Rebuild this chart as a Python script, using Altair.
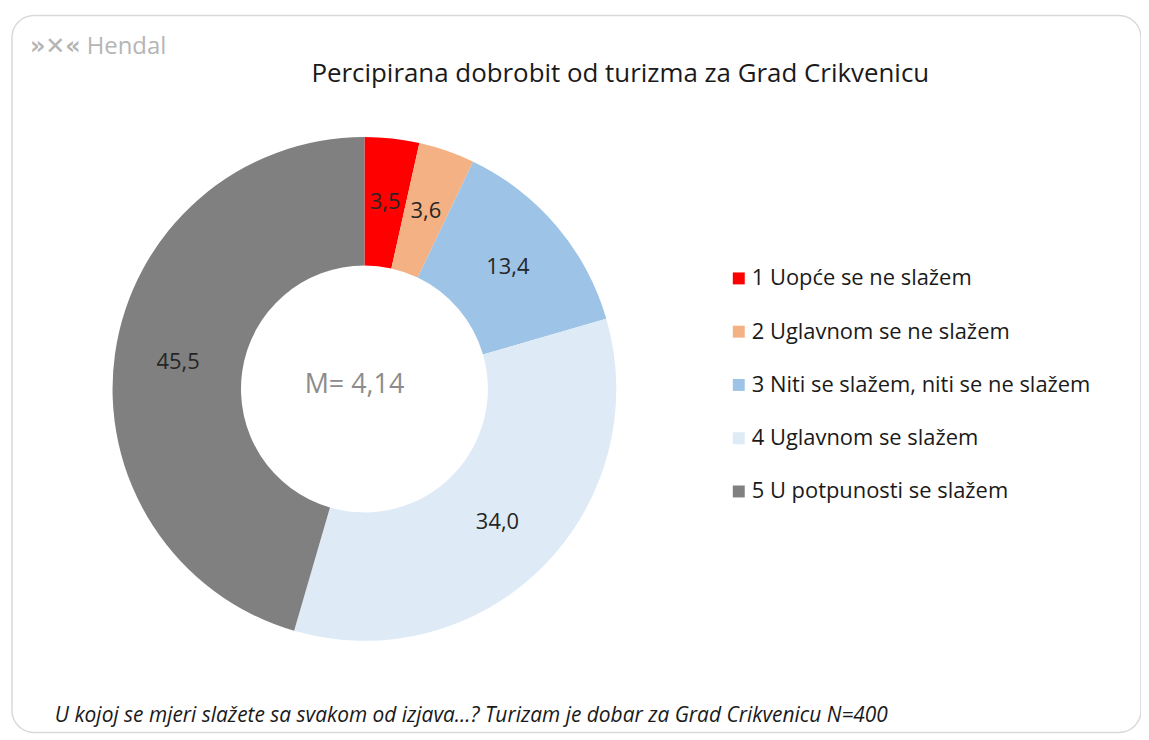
import altair as alt
import pandas as pd

categories = [
    "1 Uopće se ne slažem",
    "2 Uglavnom se ne slažem",
    "3 Niti se slažem, niti se ne slažem",
    "4 Uglavnom se slažem",
    "5 U potpunosti se slažem",
]
values = [3.5, 3.6, 13.4, 34.0, 45.5]
value_labels = ["3,5", "3,6", "13,4", "34,0", "45,5"]
colors = ["#FF0000", "#F4B183", "#9DC3E6", "#DEEBF7", "#808080"]
title_text = "Percipirana dobrobit od turizma za Grad Crikvenicu"
mean_text = "M= 4,14"
footer_text = "U kojoj se mjeri slažete sa svakom od izjava...? Turizam je dobar za Grad Crikvenicu N=400"
logo_icon = "»✕«"
logo_text = "Hendal"

df = pd.DataFrame({"cat": categories, "value": values, "label": value_labels, "k": list(range(len(values)))})

CX, CY = 354, 375
FONT = "Open Sans"

base = alt.Chart(df).encode(
    theta=alt.Theta("value:Q", stack=True),
    order=alt.Order("k:Q"),
)

arcs = base.mark_arc(outerRadius=253, innerRadius=124, strokeWidth=0).encode(
    x=alt.value(CX),
    y=alt.value(CY),
    color=alt.Color(
        "cat:N",
        scale=alt.Scale(domain=categories, range=colors),
        legend=alt.Legend(
            title=None,
            orient="none",
            legendX=719,
            legendY=253,
            symbolType="square",
            symbolSize=144,
            symbolStrokeWidth=0,
            labelFont=FONT,
            labelFontSize=22,
            labelColor="#1a1a1a",
            labelOffset=2,
            rowPadding=31.5,
            padding=0,
            labelLimit=500,
        ),
    ),
)

labels = base.mark_text(radius=189, font=FONT, fontSize=22, color="#262626").encode(
    x=alt.value(CX),
    y=alt.value(CY),
    text="label:N",
)


def annot(txt, x, y, **kw):
    return alt.Chart(pd.DataFrame({"t": [txt]})).mark_text(**kw).encode(
        x=alt.value(x), y=alt.value(y), text="t:N"
    )


title = annot(title_text, 611, 59, font=FONT, fontSize=26, color="#1a1a1a", align="center", baseline="middle")
mean = annot(mean_text, 344, 371, font=FONT, fontSize=27, color="#8c8c8c", align="center", baseline="middle")
footer = annot(footer_text, 43, 704, font=FONT, fontSize=21, fontStyle="italic", color="#1a1a1a", align="left", baseline="middle")
icon = annot(logo_icon, 18, 32, font="DejaVu Sans", fontSize=24, fontWeight="bold", color="#b5b5b5", align="left", baseline="middle")
logo = annot(logo_text, 75, 32, font=FONT, fontSize=24, color="#b5b5b5", align="left", baseline="middle")

chart = alt.layer(arcs, labels, title, mean, footer, icon, logo).properties(
    width=1134,
    height=720,
    autosize="none",
    padding={"left": 4, "top": 6, "right": 0, "bottom": 0},
).configure_view(stroke="#d9d9d9", strokeWidth=1.5, cornerRadius=22)

chart.save("out.html", embed_options={"renderer": "svg", "actions": False})
